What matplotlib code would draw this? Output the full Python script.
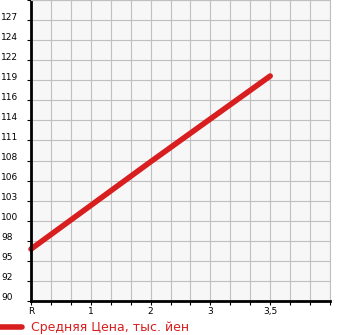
import numpy as np
import matplotlib
matplotlib.use("Agg")
import matplotlib.pyplot as plt
import matplotlib.transforms as mtransforms
from matplotlib.lines import Line2D

# data
categories = ["R", "1", "2", "3", "3,5"]
price = [96.9, 102.7, 108.5, 114.2, 119.9]
y_labels = ["90", "92", "95", "98", "100", "103", "106", "108",
            "111", "114", "116", "119", "122", "124", "127"]
legend_label = "Средняя Цена, тыс. йен"

W, H = 345, 335
red = "#d81e1e"

fig = plt.figure(figsize=(W / 100, H / 100), dpi=100)
ax = fig.add_axes([31 / W, (H - 301) / H, 299 / W, 301 / H])
ax.set_facecolor("#f7f7f7")

ymin, ymax = 90, 130
ystep = (ymax - ymin) / 15
ax.set_xlim(0, 5)
ax.set_ylim(ymin, ymax)

xt = np.arange(16) / 3
yt = ymin + np.arange(16) * ystep
ax.set_xticks(xt)
ax.set_yticks(yt)
ax.grid(True, color="#c0c0c0", lw=0.8)
ax.set_axisbelow(True)

for s in ["top", "right"]:
    ax.spines[s].set_color("#c0c0c0")
    ax.spines[s].set_linewidth(0.8)
for s in ["left", "bottom"]:
    ax.spines[s].set_color("black")
    ax.spines[s].set_linewidth(2)

ax.tick_params(axis="both", length=3, width=0.8, color="black", direction="out")
ax.set_xticklabels([])
ax.set_yticklabels([])

# x labels only on the whole steps
for i, c in enumerate(categories):
    ax.text(i, -0.035, c, transform=ax.get_xaxis_transform(), ha="center", va="center",
            fontsize=6.5, color="black")

# y labels sit left aligned at the edge, a bit above the tick
tr = mtransforms.blended_transform_factory(fig.transFigure, ax.transData)
tr = tr + mtransforms.ScaledTranslation(0, 3 / 100, fig.dpi_scale_trans)
for v, lab in zip(yt[:15], y_labels):
    ax.text(1 / W, v, lab, transform=tr, ha="left", va="center", fontsize=6.5, color="black",
            clip_on=False)

ax.plot(range(len(categories)), price, color=red, lw=4, solid_capstyle="round", clip_on=False)

# legend at bottom
fig.lines.append(Line2D([0, 22 / W], [1 - 327 / H] * 2, transform=fig.transFigure,
                        color=red, lw=4, solid_capstyle="round"))
fig.text(31 / W, 1 - 327 / H, legend_label, color=red, fontsize=9, ha="left", va="center")

fig.savefig("out.png", dpi=100)
